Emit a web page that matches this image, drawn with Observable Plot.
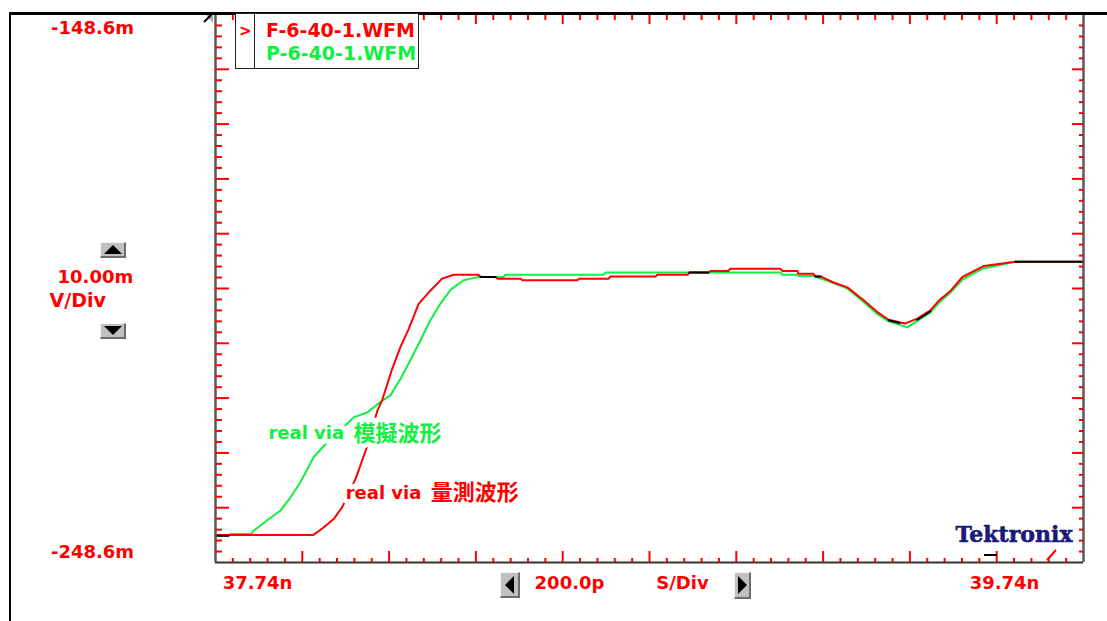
<!DOCTYPE html>
<html>
<head>
<meta charset="utf-8">
<script src="https://cdn.jsdelivr.net/npm/d3@7"></script>
<script src="https://cdn.jsdelivr.net/npm/@observablehq/plot@0.6"></script>
<style>
html, body { margin:0; padding:0; background:#fff; overflow:hidden; }
#wrap { position:relative; width:1107px; height:621px; overflow:hidden; font-family:"DejaVu Sans", sans-serif; }
#wrap > svg { position:absolute; left:0; top:0; }
.btn { position:absolute; box-sizing:border-box; background:#c0c0c0; border-top:1px solid #f6f6f6; border-left:1px solid #f6f6f6; border-right:2px solid #6c6c6c; border-bottom:2px solid #6c6c6c; }
.tri { position:absolute; width:0; height:0; }
.lg { position:absolute; font-family:"DejaVu Sans", sans-serif; font-weight:bold; font-size:19px; line-height:22px; white-space:nowrap; }
</style>
</head>
<body>
<div id="wrap"></div>
<script>
// ---- screen scale (edges of the graticule) ----
const timeRange = [37.74, 39.74];    // ns, left / right edge
const voltRange = [-248.6, -148.6];  // mV, bottom / top edge
const divisions = 10;
const subdivisions = 5;

// ---- legend ----
const seriesNames = ["F-6-40-1.WFM", "P-6-40-1.WFM"];
const seriesColors = ["#ff0000", "#10f040"];

// ---- F-6-40-1 (measured, red) ----
const measuredTime = [37.740, 37.965, 37.986, 38.013, 38.032, 38.063, 38.090, 38.113, 38.124, 38.147,
  38.166, 38.185, 38.208, 38.235, 38.262, 38.289, 38.346, 38.351, 38.385, 38.390,
  38.443, 38.447, 38.574, 38.578, 38.646, 38.650, 38.754, 38.758, 38.828, 38.832,
  38.876, 38.880, 38.922, 38.926, 39.042, 39.046, 39.081, 39.083, 39.118, 39.122,
  39.134, 39.164, 39.196, 39.234, 39.265, 39.291, 39.328, 39.357, 39.387, 39.407,
  39.434, 39.461, 39.510, 39.549, 39.583, 39.740];
const measuredVolt = [-243.6, -243.6, -242.4, -240.6, -238.5, -233.3, -227.3, -220.9, -219.0, -213.3,
  -209.3, -206.0, -201.4, -199.0, -196.8, -196.1, -196.1, -196.5, -196.5, -196.8,
  -196.8, -197.1, -197.1, -196.8, -196.8, -196.4, -196.4, -196.1, -196.1, -195.7,
  -195.7, -195.4, -195.4, -195.0, -195.0, -195.4, -195.4, -195.9, -195.9, -196.4,
  -196.4, -197.5, -198.4, -200.8, -202.9, -204.3, -205.0, -204.1, -202.6, -200.8,
  -199.0, -196.5, -194.5, -194.1, -193.7, -193.7];

// ---- P-6-40-1 (simulated, green) ----
const simulatedTime = [37.740, 37.770, 37.775, 37.821, 37.828, 37.859, 37.890, 37.913, 37.936, 37.966,
  37.990, 38.059, 38.090, 38.120, 38.143, 38.166, 38.189, 38.212, 38.235, 38.258,
  38.282, 38.312, 38.328, 38.346, 38.404, 38.408, 38.634, 38.639, 39.042, 39.046,
  39.081, 39.083, 39.118, 39.122, 39.164, 39.196, 39.234, 39.265, 39.291, 39.334,
  39.357, 39.387, 39.407, 39.434, 39.461, 39.510, 39.549, 39.583, 39.740];
const simulatedVolt = [-243.7, -243.7, -243.4, -243.4, -242.8, -240.9, -239.1, -236.7, -233.9, -229.4,
  -227.3, -222.1, -221.2, -219.3, -218.1, -215.1, -211.7, -208.1, -204.4, -201.4,
  -198.8, -197.1, -196.8, -196.5, -196.5, -196.1, -196.1, -195.7, -195.7, -196.1,
  -196.1, -196.3, -196.3, -196.4, -197.6, -198.6, -201.1, -203.3, -204.6, -205.7,
  -204.5, -203.0, -201.2, -199.3, -197.0, -194.9, -194.3, -193.7, -193.7];

// ---- pixels where both traces coincide (drawn black by the scope) ----
const overlapSegment = [0, 0, 1, 1, 2, 2, 3, 3, 4, 4, 5, 5, 6, 6];
const overlapTime = [37.740, 37.770, 38.351, 38.385, 38.832, 38.876, 39.122, 39.134, 39.291, 39.316, 39.357, 39.387, 39.583, 39.740];
const overlapVolt = [-243.7, -243.7, -196.5, -196.5, -195.7, -195.7, -196.4, -196.4, -204.4, -204.9, -204.3, -202.8, -193.7, -193.7];

// ---- annotations ----
const annotationLatin = ["real via", "real via"];
const annotationCjk = ["模擬波形", "量測波形"];
const annotationTime = [37.862, 38.040];
const annotationVolt = [-225.1, -236.0];
const annotationColor = ["#10f040", "#ff0000"];

// ---- build tables ----
const measured = measuredTime.map((t, i) => ({t, v: measuredVolt[i]}));
const simulated = simulatedTime.map((t, i) => ({t, v: simulatedVolt[i]}));
const overlap = overlapTime.map((t, i) => ({t, v: overlapVolt[i], seg: overlapSegment[i]}));
const annotations = annotationTime.map((t, i) => ({t, v: annotationVolt[i], latin: annotationLatin[i], cjk: annotationCjk[i], color: annotationColor[i]}));

const xStep = (timeRange[1] - timeRange[0]) / divisions;
const yStep = (voltRange[1] - voltRange[0]) / divisions;
const xMajor = d3.range(1, divisions).map(i => timeRange[0] + i * xStep);
const yMajor = d3.range(1, divisions).map(i => voltRange[0] + i * yStep);
const xMinor = d3.range(1, divisions * subdivisions).filter(i => i % subdivisions).map(i => timeRange[0] + i * xStep / subdivisions);
const yMinor = d3.range(1, divisions * subdivisions).filter(i => i % subdivisions).map(i => voltRange[0] + i * yStep / subdivisions);

const voltsPerDiv = yStep.toFixed(2) + "m";
const timePerDiv = (xStep * 1000).toFixed(1) + "p";

const W = 1107, H = 621, mL = 215, mR = 24, mT = 14, mB = 59;
const pW = W - mL - mR, pH = H - mT - mB;
const RED = "#ff0000";
const font = {fontFamily: "DejaVu Sans", fontWeight: "bold", fontSize: 18};

const chart = Plot.plot({
  width: W, height: H,
  marginLeft: mL, marginRight: mR, marginTop: mT, marginBottom: mB,
  x: {domain: timeRange, axis: null},
  y: {domain: voltRange, axis: null},
  style: {background: "transparent", overflow: "visible"},
  marks: [
    // traces
    Plot.line(simulated, {x: "t", y: "v", stroke: seriesColors[1], strokeWidth: 2}),
    Plot.line(measured, {x: "t", y: "v", stroke: seriesColors[0], strokeWidth: 2}),
    Plot.line(overlap, {x: "t", y: "v", z: "seg", stroke: "#000", strokeWidth: 2}),
    // annotations with opaque background
    Plot.text(annotations, {x: "t", y: "v", text: "latin", fill: "color", stroke: "white", strokeWidth: 10, textAnchor: "start", ...font}),
    Plot.text(annotations, {x: "t", y: "v", text: "cjk", fill: "color", stroke: "white", strokeWidth: 10, textAnchor: "start", dx: 85, fontFamily: "Noto Sans CJK TC", fontWeight: "bold", fontSize: 22}),
    // axis lines
    Plot.ruleX([timeRange[0], timeRange[1]], {stroke: "#5a5a5a", strokeWidth: 2.5}),
    Plot.ruleY([voltRange[0]], {stroke: "#333", strokeWidth: 2}),
    // graticule edge ticks
    Plot.ruleX(xMinor, {stroke: RED, strokeWidth: 2, insetTop: pH - 4}),
    Plot.ruleX(xMajor, {stroke: RED, strokeWidth: 2, insetTop: pH - 11}),
    Plot.ruleX(xMinor, {stroke: RED, strokeWidth: 2, insetBottom: pH - 6}),
    Plot.ruleX(xMajor, {stroke: RED, strokeWidth: 2, insetBottom: pH - 10}),
    Plot.ruleY(yMinor, {stroke: RED, strokeWidth: 2, insetRight: pW - 7}),
    Plot.ruleY(yMajor, {stroke: RED, strokeWidth: 2, insetRight: pW - 14}),
    Plot.ruleY(yMinor, {stroke: RED, strokeWidth: 2, insetLeft: pW - 4}),
    Plot.ruleY(yMajor, {stroke: RED, strokeWidth: 2, insetLeft: pW - 11}),
    // scale readouts
    Plot.text([voltRange[1]], {y: d => d, text: d => d.toFixed(1) + "m", frameAnchor: "left", textAnchor: "middle", dx: -123, dy: 14, fill: RED, ...font}),
    Plot.text([voltRange[0]], {y: d => d, text: d => d.toFixed(1) + "m", frameAnchor: "left", textAnchor: "middle", dx: -123, dy: -10, fill: RED, ...font}),
    Plot.text([voltsPerDiv], {text: d => d, frameAnchor: "left", textAnchor: "start", dx: -158, dy: -11, fill: RED, ...font}),
    Plot.text(["V/Div"], {text: d => d, frameAnchor: "left", textAnchor: "start", dx: -166, dy: 12, fill: RED, ...font, fontSize: 19}),
    Plot.text([timeRange[0]], {x: d => d, text: d => d.toFixed(2) + "n", frameAnchor: "bottom", textAnchor: "middle", dx: 42, dy: 26, fill: RED, ...font}),
    Plot.text([timeRange[1]], {x: d => d, text: d => d.toFixed(2) + "n", frameAnchor: "bottom", textAnchor: "middle", dx: -79, dy: 26, fill: RED, ...font}),
    Plot.text([timePerDiv], {text: d => d, frameAnchor: "bottom", textAnchor: "middle", dx: -80, dy: 26, fill: RED, ...font}),
    Plot.text(["S/Div"], {text: d => d, frameAnchor: "bottom", textAnchor: "middle", dx: 33, dy: 26, fill: RED, ...font}),
    // logo
    Plot.text(["Tektronix"], {text: d => d, frameAnchor: "bottom-right", textAnchor: "end", dx: -11, dy: -21, fill: "#1a1a78", stroke: "#1a1a78", strokeWidth: 0.6, fontFamily: "DejaVu Serif", fontWeight: "bold", fontSize: 22})
  ]
});

const wrap = document.getElementById("wrap");
wrap.appendChild(chart);

function el(html) { const d = document.createElement("div"); d.innerHTML = html; const n = d.firstElementChild; wrap.appendChild(n); return n; }

// outer window frame
el(`<div style="position:absolute;left:9px;top:12px;width:1200px;height:700px;border-left:2.5px solid #000;border-top:3px solid #000;pointer-events:none"></div>`);

// legend
el(`<div style="position:absolute;left:235px;top:13px;width:184px;height:56px;box-sizing:border-box;border:1.5px solid #222;background:#fff">
  <div style="position:absolute;left:18px;top:0;bottom:0;border-left:1.5px solid #222"></div>
  <span class="lg" style="left:3px;top:6px;color:${seriesColors[0]};font-size:15px">&gt;</span>
  <span class="lg" style="left:30px;top:5px;color:${seriesColors[0]}">${seriesNames[0]}</span>
  <span class="lg" style="left:30px;top:28px;color:${seriesColors[1]}">${seriesNames[1]}</span>
</div>`);

// buttons
function button(x, y, w, h, dir) {
  const b = el(`<div class="btn" style="left:${x}px;top:${y}px;width:${w}px;height:${h}px"></div>`);
  const t = document.createElement("div");
  t.className = "tri";
  if (dir === "up" || dir === "down") {
    const a = 9, hh = 9;
    t.style.left = ((w - 3) / 2 - a) + "px";
    t.style.top = ((h - 3) / 2 - hh / 2) + "px";
    t.style.borderLeft = a + "px solid transparent";
    t.style.borderRight = a + "px solid transparent";
    if (dir === "up") t.style.borderBottom = hh + "px solid #000"; else t.style.borderTop = hh + "px solid #000";
  } else {
    const a = 9, ww = 9;
    t.style.left = ((w - 3) / 2 - ww / 2) + "px";
    t.style.top = ((h - 3) / 2 - a) + "px";
    t.style.borderTop = a + "px solid transparent";
    t.style.borderBottom = a + "px solid transparent";
    if (dir === "left") t.style.borderRight = ww + "px solid #000"; else t.style.borderLeft = ww + "px solid #000";
  }
  b.appendChild(t);
}
button(100, 242, 26, 16, "up");
button(100, 323, 26, 16, "down");
button(500, 572, 20, 26, "left");
button(734, 572, 17, 27, "right");

// ground reference marker and trigger markers
el(`<svg style="position:absolute;left:0;top:0" width="1107" height="621">
  <polygon points="206,15 213,15 213,23" fill="#a8a8a8"/>
  <line x1="204" y1="22" x2="211" y2="15" stroke="#000" stroke-width="2"/>
  <line x1="984" y1="555" x2="997" y2="555" stroke="#000" stroke-width="2"/>
  <line x1="1047" y1="560" x2="1056" y2="550" stroke="#ff0000" stroke-width="2"/>
</svg>`);
</script>
</body>
</html>
